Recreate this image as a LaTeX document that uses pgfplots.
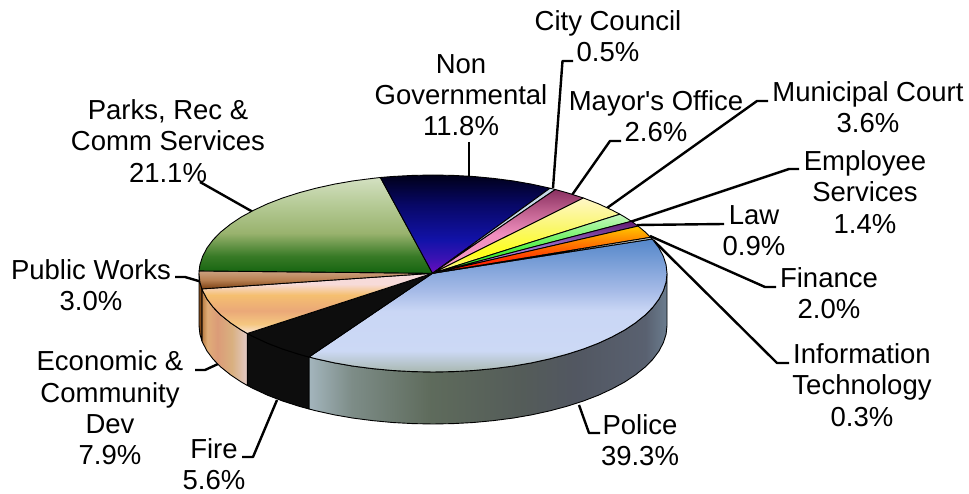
\documentclass[border=0pt]{standalone}
\usepackage{fontspec}
\setmainfont{Liberation Sans}
\usepackage{pgfplots}
\pgfplotsset{compat=1.18}

% Colour ramps of the pie's top faces, bottom to top; 25bp..75bp spans the slice
\pgfdeclareverticalshading{policeTop}{100bp}{rgb(0bp)=(0.66,0.72,0.69); rgb(25bp)=(0.66,0.72,0.69); rgb(33bp)=(0.80,0.85,0.96); rgb(48bp)=(0.79,0.84,0.96); rgb(55bp)=(0.66,0.74,0.91); rgb(75bp)=(0.33,0.53,0.79); rgb(100bp)=(0.33,0.53,0.79)}
\pgfdeclareverticalshading{parksTop}{100bp}{rgb(0bp)=(0.08,0.39,0.06); rgb(25bp)=(0.08,0.39,0.06); rgb(34bp)=(0.22,0.48,0.15); rgb(46bp)=(0.60,0.70,0.43); rgb(62bp)=(0.72,0.80,0.60); rgb(75bp)=(0.83,0.88,0.76); rgb(100bp)=(0.83,0.88,0.76)}
\pgfdeclareverticalshading{nongovTop}{100bp}{rgb(0bp)=(0.42,0.05,0.75); rgb(25bp)=(0.42,0.05,0.75); rgb(33bp)=(0.22,0.07,0.70); rgb(42bp)=(0.07,0.07,0.66); rgb(60bp)=(0.03,0.03,0.40); rgb(75bp)=(0,0,0.10); rgb(100bp)=(0,0,0.10)}
\pgfdeclareverticalshading{worksTop}{100bp}{rgb(0bp)=(0.48,0.25,0.07); rgb(25bp)=(0.48,0.25,0.07); rgb(50bp)=(0.72,0.50,0.32); rgb(75bp)=(0.80,0.63,0.50); rgb(100bp)=(0.80,0.63,0.50)}
\pgfdeclareverticalshading{econTop}{100bp}{rgb(0bp)=(0.98,0.90,0.86); rgb(25bp)=(0.98,0.90,0.86); rgb(33bp)=(0.96,0.78,0.50); rgb(44bp)=(0.92,0.66,0.47); rgb(57bp)=(0.96,0.75,0.44); rgb(66bp)=(0.97,0.86,0.85); rgb(75bp)=(0.97,0.86,0.86); rgb(100bp)=(0.97,0.86,0.86)}
\pgfdeclareverticalshading{mayorTop}{100bp}{rgb(0bp)=(0.97,0.62,0.78); rgb(25bp)=(0.97,0.62,0.78); rgb(48bp)=(0.94,0.56,0.75); rgb(62bp)=(0.75,0.38,0.56); rgb(75bp)=(0.54,0.19,0.38); rgb(100bp)=(0.54,0.19,0.38)}
\pgfdeclareverticalshading{courtTop}{100bp}{rgb(0bp)=(0.97,0.94,0.70); rgb(25bp)=(0.97,0.94,0.70); rgb(38bp)=(1,1,0.10); rgb(55bp)=(0.98,0.97,0.42); rgb(75bp)=(1,0.97,0.78); rgb(100bp)=(1,0.97,0.78)}
\pgfdeclareverticalshading{staffTop}{100bp}{rgb(0bp)=(0.12,0.88,0.12); rgb(25bp)=(0.12,0.88,0.12); rgb(45bp)=(0.30,0.94,0.25); rgb(75bp)=(0.78,0.97,0.75); rgb(100bp)=(0.78,0.97,0.75)}
\pgfdeclareverticalshading{lawTop}{100bp}{rgb(0bp)=(0.75,0.62,0.94); rgb(25bp)=(0.75,0.62,0.94); rgb(50bp)=(0.60,0.44,0.82); rgb(75bp)=(0.38,0.10,0.44); rgb(100bp)=(0.38,0.10,0.44)}
\pgfdeclareverticalshading{financeTop}{100bp}{rgb(0bp)=(1,0,0); rgb(25bp)=(1,0,0); rgb(40bp)=(1,0.20,0); rgb(58bp)=(1,0.50,0); rgb(75bp)=(1,0.78,0); rgb(100bp)=(1,0.78,0)}
% Colour ramps of the rim, left to right
\pgfdeclarehorizontalshading{policeSide}{100bp}{rgb(0bp)=(0.64,0.71,0.74); rgb(25bp)=(0.64,0.71,0.74); rgb(31bp)=(0.49,0.55,0.53); rgb(42bp)=(0.37,0.42,0.36); rgb(55bp)=(0.33,0.36,0.35); rgb(62bp)=(0.32,0.34,0.38); rgb(72bp)=(0.35,0.38,0.44); rgb(75bp)=(0.42,0.49,0.56); rgb(100bp)=(0.42,0.49,0.56)}
\pgfdeclarehorizontalshading{econSide}{100bp}{rgb(0bp)=(0.72,0.48,0.25); rgb(25bp)=(0.72,0.48,0.25); rgb(31bp)=(0.88,0.68,0.47); rgb(42bp)=(0.86,0.61,0.47); rgb(58bp)=(0.85,0.69,0.50); rgb(75bp)=(0.89,0.79,0.78); rgb(100bp)=(0.89,0.79,0.78)}

\begin{document}
\begin{tikzpicture}
\begin{axis}[
  hide axis, scale only axis,
  width=969pt, height=494pt,
  xmin=0, xmax=969, ymin=0, ymax=494,
  y dir=reverse, clip=false,
  pie/.style={draw=black, line width=0.9pt, line join=round},
  leader/.style={draw=black, line width=2.4pt, line join=round, mark=none},
]
% The picture area
\draw[draw=none] (axis cs:0,0) rectangle (axis cs:969,494);
% Leader lines from the slices to their labels
\addplot[leader] coordinates {(553,188) (562.5,61) (573,61)};
\addplot[leader] coordinates {(572,195) (610,141) (621,141)};
\addplot[leader] coordinates {(607,208) (757,101) (768,101)};
\addplot[leader] coordinates {(630,222) (789,169) (799,169)};
\addplot[leader] coordinates {(637,225) (724,224)};
\addplot[leader] coordinates {(650,236) (765,287) (776,287)};
\addplot[leader] coordinates {(653,240) (777,363) (789,363)};
\addplot[leader] coordinates {(579,405) (589,433) (600,433)};
\addplot[leader] coordinates {(277,400) (253,457) (242,457)};
\addplot[leader] coordinates {(218,364) (205,370) (195,370)};
\addplot[leader] coordinates {(175,277) (185,277) (202,282)};
\addplot[leader] coordinates {(200,182) (253,212)};
\addplot[leader] coordinates {(469,142) (469,177)};

% Rim of the pie
\addplot[pie, shading=policeSide] coordinates {
 (667,273.5) (666.1,282.1) (663.4,290.6) (659,299) (652.9,307.2) (645.1,315.1) (635.6,322.75) (624.7,330) (612.2,336.8) (598.5,343.2) (583.4,349) (567.2,354.2) (550,358.8) (531.9,362.8) (513,366.1) (493.6,368.6) (473.6,370.5) (453.4,371.6) (433,372) (412.6,371.6) (392.4,370.5) (372.4,368.6) (353,366.1) (334.1,362.8) (316,358.8) (309,357)
 (309,409) (316,410.8) (334.1,414.8) (353,418.1) (372.4,420.6) (392.4,422.5) (412.6,423.6) (433,424) (453.4,423.6) (473.6,422.5) (493.6,420.6) (513,418.1) (531.9,414.8) (550,410.8) (567.2,406.2) (583.4,401) (598.5,395.2) (612.2,388.8) (624.7,382) (635.6,374.75) (645.1,367.1) (652.9,359.2) (659,351) (663.4,342.6) (666.1,334.1) (667,325.5)
} -- cycle;
\addplot[pie, fill={rgb,1:red,0.05;green,0.05;blue,0.05}] coordinates {
 (309,357) (298.8,354.2) (282.6,349) (267.5,343.2) (253.8,336.8) (247.3,333.5)
 (247.3,385.5) (253.8,388.8) (267.5,395.2) (282.6,401) (298.8,406.2) (309,409)
} -- cycle;
\addplot[pie, shading=econSide] coordinates {
 (247.3,333.5) (241.3,330) (230.4,322.75) (220.9,315.1) (213.1,307.2) (207,299) (202.6,290.6) (201.9,288.9)
 (201.9,340.9) (202.6,342.6) (207,351) (213.1,359.2) (220.9,367.1) (230.4,374.75) (241.3,382) (247.3,385.5)
} -- cycle;
\addplot[pie, fill={rgb,1:red,0.50;green,0.29;blue,0.10}] coordinates {
 (201.9,288.9) (199.9,282.1) (199,273.5) (199,325.5) (199.9,334.1) (201.9,340.9)
} -- cycle;

% Top faces, clockwise from Police: 39.3, 5.6, 7.9, 3.0, 21.1, 11.8, 0.5, 2.6, 3.6, 1.4, 0.9, 2.0, 0.3 percent
\addplot[pie, shading=policeTop] coordinates {
 (432.5,273.3) (652.2,239) (659,248) (663.4,256.4) (666.1,264.9) (667,273.5) (666.1,282.1) (663.4,290.6) (659,299) (652.9,307.2) (645.1,315.1) (635.6,322.75) (624.7,330) (612.2,336.8) (598.5,343.2) (583.4,349) (567.2,354.2) (550,358.8) (531.9,362.8) (513,366.1) (493.6,368.6) (473.6,370.5) (453.4,371.6) (433,372) (412.6,371.6) (392.4,370.5) (372.4,368.6) (353,366.1) (334.1,362.8) (316,358.8) (309,357)
} -- cycle;
\addplot[pie, fill={rgb,1:red,0.05;green,0.05;blue,0.05}] coordinates {
 (432.5,273.3) (309,357) (298.8,354.2) (282.6,349) (267.5,343.2) (253.8,336.8) (247.3,333.5)
} -- cycle;
\addplot[pie, shading=econTop] coordinates {
 (432.5,273.3) (247.3,333.5) (241.3,330) (230.4,322.75) (220.9,315.1) (213.1,307.2) (207,299) (202.6,290.6) (201.9,288.9)
} -- cycle;
\addplot[pie, shading=worksTop] coordinates {
 (432.5,273.3) (201.9,288.9) (199.9,282.1) (199,273.5) (199.1,270.9)
} -- cycle;
\addplot[pie, shading=parksTop] coordinates {
 (432.5,273.3) (199.1,270.9) (199.9,264.9) (202.6,256.4) (207,248) (213.1,239.8) (220.9,231.9) (230.4,224.25) (241.3,217) (253.8,210.2) (267.5,203.8) (282.6,198) (298.8,192.8) (316,188.2) (334.1,184.2) (353,180.9) (372.4,178.4) (380.4,177.5)
} -- cycle;
\addplot[pie, shading=nongovTop] coordinates {
 (432.5,273.3) (380.4,177.5) (392.4,176.5) (412.6,175.4) (433,175) (453.4,175.4) (473.6,176.5) (493.6,178.4) (513,180.9) (531.9,184.2) (550,188.2)
} -- cycle;
\addplot[pie, fill={rgb,1:red,0.78;green,0.85;blue,0.91}] coordinates {
 (432.5,273.3) (550,188.2) (555.3,189.5)
} -- cycle;
\addplot[pie, shading=mayorTop] coordinates {
 (432.5,273.3) (555.3,189.5) (567.2,192.8) (583.4,198)
} -- cycle;
\addplot[pie, shading=courtTop] coordinates {
 (432.5,273.3) (583.4,198) (598.5,203.8) (612.2,210.2) (619.9,214.2)
} -- cycle;
\addplot[pie, shading=staffTop] coordinates {
 (432.5,273.3) (619.9,214.2) (624.7,217) (631.4,221.3)
} -- cycle;
\addplot[pie, shading=lawTop] coordinates {
 (432.5,273.3) (631.4,221.3) (635.6,224.25) (638.1,226.1)
} -- cycle;
\addplot[pie, shading=financeTop] coordinates {
 (432.5,273.3) (638.1,226.1) (645.1,231.9) (650.6,237.3)
} -- cycle;
\addplot[pie, fill={rgb,1:red,0.80;green,0.82;blue,0.80}] coordinates {
 (432.5,273.3) (650.6,237.3) (652.2,239)
} -- cycle;

% Slice names and shares
\tikzset{lab/.style={align=center, inner sep=0pt, font=\fontsize{27.5}{31.3}\selectfont}}
\node[lab] at (axis cs:608,36) {City Council\\0.5\%};
\node[lab] at (axis cs:461,95) {Non\\Governmental\\11.8\%};
\node[lab] at (axis cs:656,116) {Mayor\textquotesingle s Office\\2.6\%};
\node[lab] at (axis cs:868,107) {Municipal Court\\3.6\%};
\node[lab] at (axis cs:865,192) {Employee\\Services\\1.4\%};
\node[lab] at (axis cs:754,231) {Law\\0.9\%};
\node[lab] at (axis cs:829,293) {Finance\\2.0\%};
\node[lab] at (axis cs:862,385) {Information\\Technology\\0.3\%};
\node[lab] at (axis cs:640,440) {Police\\39.3\%};
\node[lab] at (axis cs:214,464) {Fire\\5.6\%};
\node[lab] at (axis cs:110,408) {Economic \&\\Community\\Dev\\7.9\%};
\node[lab] at (axis cs:91,285) {Public Works\\3.0\%};
\node[lab] at (axis cs:168,141) {Parks, Rec \&\\Comm Services\\21.1\%};
\end{axis}
\end{tikzpicture}
\end{document}
